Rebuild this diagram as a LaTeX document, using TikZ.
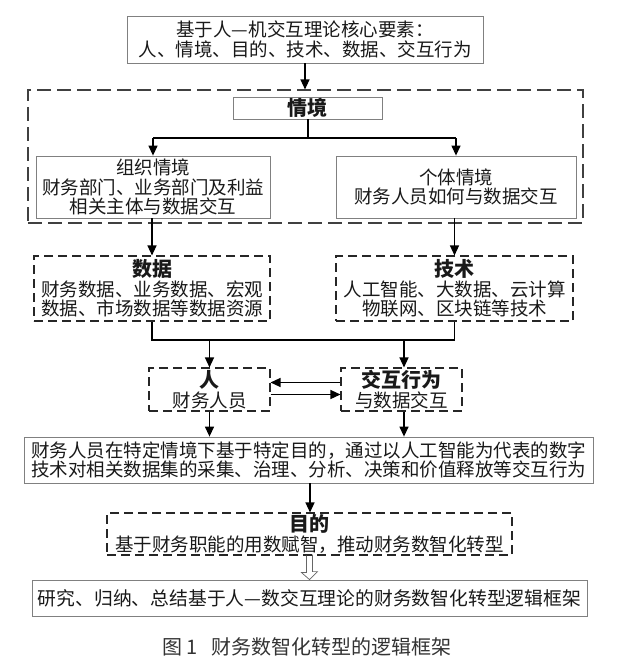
\documentclass[tikz,border=0pt]{standalone}
\usepackage{fontspec}
\setmainfont{Noto Sans CJK SC}
\usetikzlibrary{arrows.meta}
\newcommand\bodyf{\fontsize{18.5}{19.5}\selectfont}
\newcommand\titlef{\bfseries\fontsize{20}{21}\selectfont}
\begin{document}
\begin{tikzpicture}[x=1pt,y=-1pt,
  solidbox/.style={draw=black!50, line width=0.8pt, inner sep=0pt, align=center, font=\bodyf, text=black!90},
  dashbox/.style={draw=black!85, line width=1.1pt, dash pattern=on 9pt off 5pt, inner sep=0pt, align=center, font=\bodyf, text=black!90},
  outerbox/.style={draw=black!75, line width=1.1pt, dash pattern=on 14pt off 6pt, inner sep=0pt},
  arr/.style={line width=1.3pt, draw=black, -{Triangle[length=10pt,width=9pt]}},
  plain/.style={line width=1.3pt, draw=black},
  hollow/.style={line width=0.7pt, draw=black!60}]
\useasboundingbox (0,0) rectangle (621,666);
\fill[white] (0,0) rectangle (621,666);

\node[outerbox, minimum width=555pt, minimum height=133pt] (outer) at (305.5,156.5) {};

\node[solidbox, minimum width=356pt, minimum height=47pt] (top) at (305,39.5)
  {基于人—机交互理论核心要素：\\人、情境、目的、技术、数据、交互行为};

\node[solidbox, minimum width=149pt, minimum height=22pt] (qj) at (307.5,108) {\titlef 情境};

\node[solidbox, minimum width=234pt, minimum height=62pt] (zz) at (153,187)
  {组织情境\\财务部门、业务部门及利益\\相关主体与数据交互};
\node[solidbox, minimum width=240pt, minimum height=62pt] (gt) at (456,187)
  {个体情境\\财务人员如何与数据交互};

\node[dashbox, minimum width=236pt, minimum height=65pt] (sj) at (152,288.5)
  {{\titlef 数据}\\财务数据、业务数据、宏观\\数据、市场数据等数据资源};
\node[dashbox, minimum width=237pt, minimum height=65pt] (js) at (454.5,288.5)
  {{\titlef 技术}\\人工智能、大数据、云计算\\物联网、区块链等技术};

\node[dashbox, minimum width=121pt, minimum height=43pt] (ren) at (209.5,389.5)
  {{\titlef 人}\\财务人员};
\node[dashbox, minimum width=121pt, minimum height=43pt] (jh) at (401.5,389.5)
  {{\titlef 交互行为}\\与数据交互};

\node[solidbox, minimum width=569pt, minimum height=46pt] (long) at (308.5,460)
  {财务人员在特定情境下基于特定目的，通过以人工智能为代表的数字\\技术对相关数据集的采集、治理、分析、决策和价值释放等交互行为};

\node[dashbox, minimum width=405pt, minimum height=42pt] (md) at (309.5,534)
  {{\titlef 目的}\\基于财务职能的用数赋智，推动财务数智化转型};

\node[solidbox, minimum width=555pt, minimum height=36pt, font=\fontsize{18.8}{20}\selectfont] (fin) at (309.5,598)
  {研究、归纳、总结基于人—数交互理论的财务数智化转型逻辑框架};

\node[font=\fontsize{20}{20}\selectfont, text=black!80, inner sep=0pt] (cap) at (307,647)
  {图 1\hspace{14pt}财务数智化转型的逻辑框架};

% connectors
\draw[arr] (top.south) -- (top.south |- outer.north);
\coordinate (split) at (308,138);
\draw[plain] ([xshift=0.5pt]qj.south) -- (split);
\draw[plain] (zz.north |- split) -- (gt.north |- split);
\draw[arr] (zz.north |- split) -- (zz.north);
\draw[arr] (gt.north |- split) -- (gt.north);

\draw[arr] (zz.south -| sj.north) -- (sj.north);
\draw[arr] (gt.south -| js.north) -- (js.north);

\coordinate (bus) at (0,340);
\draw[plain] (sj.south) -- (sj.south |- bus) -- (js.south |- bus) -- (js.south);
\draw[arr] (ren.north |- bus) -- (ren.north);
\coordinate (jhx) at (404,0);
\draw[arr] (jhx |- bus) -- (jhx |- jh.north);

\draw[arr] ([yshift=7pt]jh.west) -- ([yshift=7pt]ren.east);
\draw[arr] ([yshift=-5pt]ren.east) -- ([yshift=-5pt]jh.west);

\draw[arr] (ren.south) -- (ren.south |- long.north);
\draw[arr] (jhx |- jh.south) -- (jhx |- long.north);

\coordinate (lx) at (310,0);
\draw[arr] (lx |- long.south) -- (lx |- md.north);

\draw[hollow] ([xshift=-3pt]md.south) -- ++(0,17) -- ++(-5,0) -- (fin.north) -- ++(8,-8) -- ++(-5,0) -- ++(0,-17);
\end{tikzpicture}
\end{document}
